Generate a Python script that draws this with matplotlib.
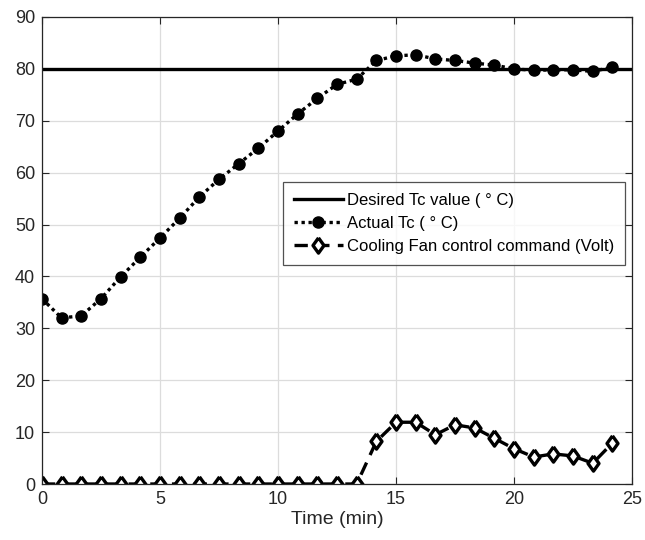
import numpy as np
import matplotlib
matplotlib.use("Agg")
import matplotlib.pyplot as plt

plt.rcParams['font.family'] = ['Liberation Sans', 'DejaVu Sans']

time_min = [i * 5 / 6 for i in range(30)]
desired_tc = 80
actual_tc = [35.7, 32.0, 32.4, 35.7, 39.9, 43.7, 47.4, 51.2, 55.3, 58.7,
             61.7, 64.7, 68.0, 71.3, 74.3, 77.0, 78.0, 81.6, 82.5, 82.7,
             81.9, 81.6, 81.1, 80.7, 80.0, 79.7, 79.8, 79.8, 79.5, 80.3]
fan_cmd = [0] * 17 + [8.2, 11.9, 11.9, 9.5, 11.4, 10.8, 8.8, 6.8, 5.2,
                      5.8, 5.4, 4.0, 7.9]
xticks = [0, 5, 10, 15, 20, 25]
yticks = [0, 10, 20, 30, 40, 50, 60, 70, 80, 90]

dark = '#262626'
diamond = [(0, 1), (0.72, 0), (0, -1), (-0.72, 0), (0, 1)]

fig = plt.figure(figsize=(6.45, 5.4), dpi=100)
ax = fig.add_axes([0.065, 0.1037, 0.915, 0.865])

ax.plot([0, 25], [desired_tc, desired_tc], color='black', lw=2.4,
        label='Desired Tc value ( ° C)')
ax.plot(time_min, actual_tc, color='black', lw=2.4, linestyle=(0, (1, 1.1)),
        marker='o', markersize=8, markerfacecolor='black',
        label='Actual Tc ( ° C)')
ax.plot(time_min, fan_cmd, color='black', lw=2.4, linestyle=(0, (4, 2.5)),
        marker=diamond, markersize=11, markerfacecolor='white',
        markeredgewidth=2.4, label='Cooling Fan control command (Volt)')

ax.set_xlim(0, 25)
ax.set_ylim(0, 90)
ax.set_xticks(xticks)
ax.set_yticks(yticks)
ax.tick_params(direction='in', top=True, right=True, labelsize=13,
               length=5, width=0.8, pad=5, colors=dark, labelcolor=dark)
ax.grid(True, color='#dcdcdc', lw=0.9)
ax.set_axisbelow(True)
for s in ax.spines.values():
    s.set_linewidth(0.9)
    s.set_color(dark)
ax.set_xlabel('Time (min)', fontsize=14, labelpad=2, color=dark)

leg = ax.legend(loc='upper left', bbox_to_anchor=(0.408, 0.647), fontsize=12,
                frameon=True, fancybox=False, edgecolor=dark,
                handlelength=2.95, borderpad=0.65, labelspacing=0.5,
                handletextpad=0.25, borderaxespad=0)
leg.get_frame().set_linewidth(0.9)
for t in leg.get_texts():
    t.set_color('black')

fig.savefig('out.png', dpi=100)
